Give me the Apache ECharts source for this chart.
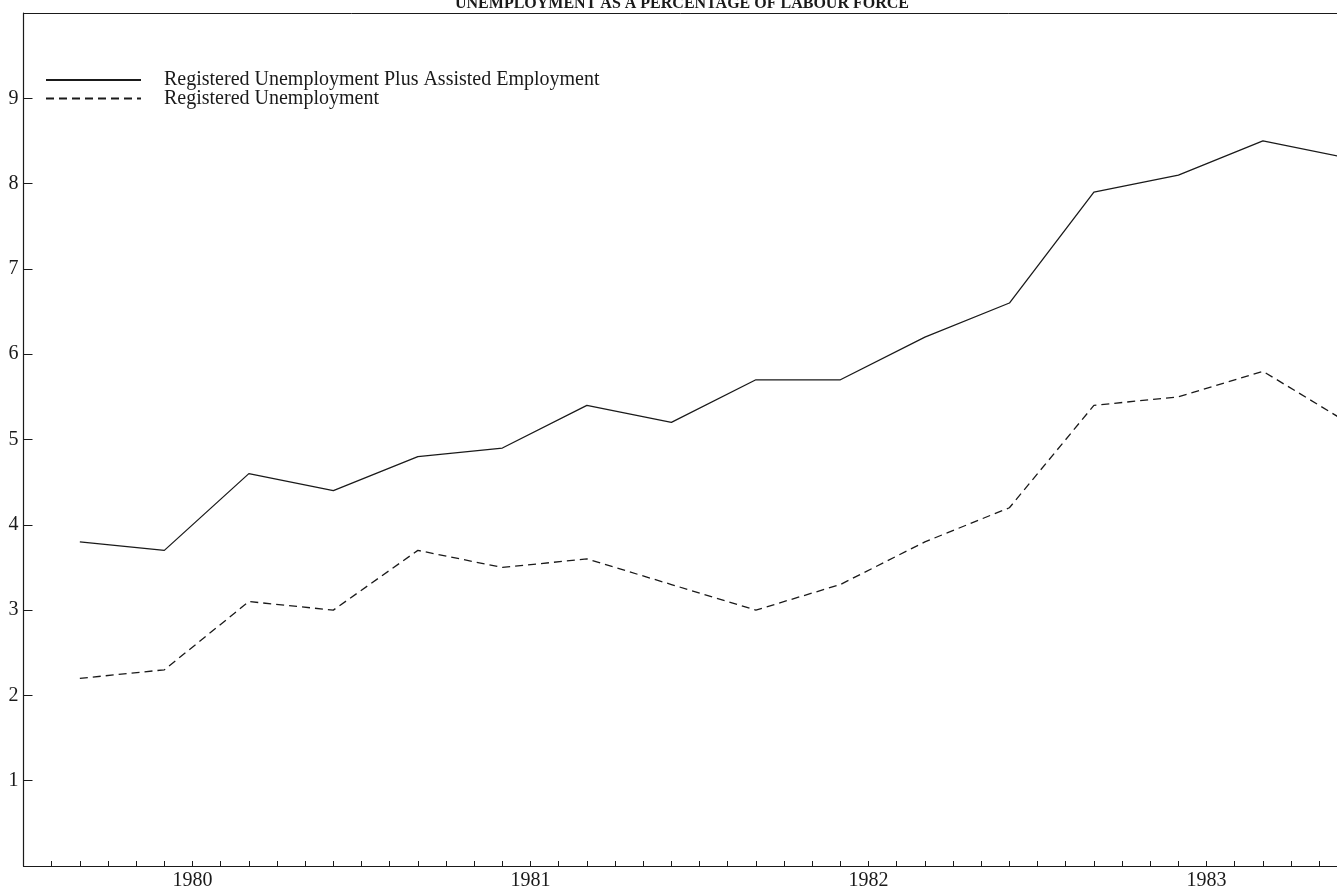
<!DOCTYPE html>
<html>
<head>
<meta charset="utf-8">
<script src="https://cdn.jsdelivr.net/npm/echarts@6/dist/echarts.min.js"></script>
<style>
html,body{margin:0;padding:0;background:#fff;}
#chart{width:1337px;height:894px;}
</style>
</head>
<body>
<div id="chart"></div>
<script>
// Months counted from January 1980; data are quarterly observations
const months = [2, 5, 8, 11, 14, 17, 20, 23, 26, 29, 32, 35, 38, 41, 44, 47];
const plusAssisted = [3.8, 3.7, 4.6, 4.4, 4.8, 4.9, 5.4, 5.2, 5.7, 5.7, 6.2, 6.6, 7.9, 8.1, 8.5, 8.3];
const registered = [2.2, 2.3, 3.1, 3.0, 3.7, 3.5, 3.6, 3.3, 3.0, 3.3, 3.8, 4.2, 5.4, 5.5, 5.8, 5.2];
const yearTicks = [6, 18, 30, 42];
const yearLabels = ['1980', '1981', '1982', '1983'];
const yTickLabels = ['1', '2', '3', '4', '5', '6', '7', '8', '9'];
const seriesNames = ['Registered Unemployment Plus Assisted Employment', 'Registered Unemployment'];
const titleText = 'UNEMPLOYMENT AS A PERCENTAGE OF LABOUR FORCE';

const FONT = '"Liberation Serif", "DejaVu Serif", serif';
const INK = '#1a1a1a';

const chart = echarts.init(document.getElementById('chart'), null, {renderer: 'canvas'});
chart.setOption({
  backgroundColor: '#ffffff',
  animation: false,
  title: {
    text: titleText,
    left: 450,
    top: -9,
    textStyle: {fontFamily: FONT, fontWeight: 'bold', fontSize: 16, color: INK}
  },
  legend: {
    orient: 'vertical',
    left: 45,
    top: 70,
    padding: 0,
    itemWidth: 95,
    itemHeight: 16,
    itemGap: -1.5,
    data: seriesNames,
    itemStyle: {opacity: 0},
    textStyle: {fontFamily: FONT, fontSize: 20, color: INK, padding: [0, 0, 0, 18]}
  },
  grid: {left: 23.5, right: 0, top: 13, bottom: 28, containLabel: false},
  xAxis: [{
    type: 'value',
    min: 0,
    max: 46.63,
    interval: 1,
    axisLine: {show: true, lineStyle: {color: INK, width: 1.2}},
    axisTick: {show: true, inside: true, length: 5, lineStyle: {color: INK, width: 1}},
    splitLine: {show: false},
    axisLabel: {
      show: true,
      margin: 5,
      showMinLabel: true,
      showMaxLabel: false,
      fontFamily: FONT,
      fontSize: 20,
      color: INK,
      formatter: function (v) {
        const i = yearTicks.indexOf(Math.round(v * 1000) / 1000);
        return i >= 0 ? yearLabels[i] : '';
      }
    }
  }, {
    type: 'value',
    position: 'top',
    min: 0,
    max: 46.63,
    interval: 1,
    axisLine: {show: true, lineStyle: {color: INK, width: 1}},
    axisTick: {show: false},
    axisLabel: {show: false},
    splitLine: {show: false}
  }],
  yAxis: {
    type: 'value',
    min: 0,
    max: 10,
    interval: 1,
    axisLine: {show: true, lineStyle: {color: INK, width: 1.2}},
    axisTick: {show: true, inside: true, length: 9, lineStyle: {color: INK, width: 1}},
    splitLine: {show: false},
    axisLabel: {
      margin: 5,
      fontFamily: FONT,
      fontSize: 20,
      color: INK,
      formatter: function (v) {
        const i = Math.round(v) - 1;
        return (i >= 0 && i < yTickLabels.length) ? yTickLabels[i] : '';
      }
    }
  },
  series: [{
    name: seriesNames[0],
    type: 'line',
    symbol: 'none',
    clip: true,
    data: months.map((m, i) => [m, plusAssisted[i]]),
    lineStyle: {color: INK, width: 1.3, type: 'solid'},
    itemStyle: {color: INK}
  }, {
    name: seriesNames[1],
    type: 'line',
    symbol: 'none',
    clip: true,
    data: months.map((m, i) => [m, registered[i]]),
    lineStyle: {color: INK, width: 1.3, type: [8, 5]},
    itemStyle: {color: INK}
  }]
});
</script>
</body>
</html>
